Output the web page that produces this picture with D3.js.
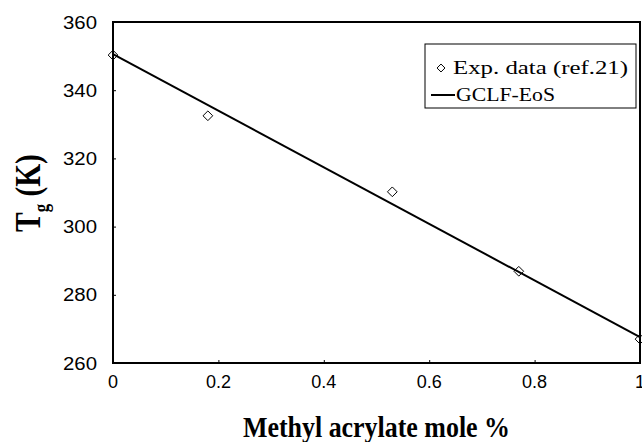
<!DOCTYPE html>
<html><head><meta charset="utf-8">
<script src="https://cdn.jsdelivr.net/npm/d3@7/dist/d3.min.js"></script>
<style>body{margin:0;background:#fff}svg{display:block}</style>
</head><body>
<svg id="c" width="642" height="442"></svg>
<script>
const xTicks = [0, 0.2, 0.4, 0.6, 0.8, 1];
const yTicks = [260, 280, 300, 320, 340, 360];
const expX = [0, 0.18, 0.53, 0.77, 1.0];
const expY = [350.3, 332.5, 310.2, 286.9, 267.0];
const fitX = [0, 1];
const fitY = [350.6, 267.6];
const legendLabels = ["Exp. data (ref.21)", "GCLF-EoS"];

const svg = d3.select("#c");
const L = 113, R = 640, T = 22, B = 363;
const x = d3.scaleLinear().domain([0, 1]).range([L, R]);
const y = d3.scaleLinear().domain([260, 360]).range([B, T]);

// inward ticks
svg.append("g").attr("transform", `translate(0,${B})`)
  .call(d3.axisBottom(x).tickValues(xTicks).tickSize(-3).tickFormat(""))
  .call(g => g.select(".domain").remove());
svg.append("g").attr("transform", `translate(${L},0)`)
  .call(d3.axisLeft(y).tickValues(yTicks).tickSize(-3).tickFormat(""))
  .call(g => g.select(".domain").remove());

// frame
svg.append("rect").attr("x", L).attr("y", T).attr("width", R - L).attr("height", B - T)
  .attr("fill", "none").attr("stroke", "#000").attr("stroke-width", 2);

// tick labels
svg.append("g").selectAll("text").data(xTicks).join("text")
  .attr("x", d => x(d)).attr("y", 388).attr("text-anchor", "middle")
  .attr("font-family", "Liberation Sans, Arial, sans-serif").attr("font-size", 18)
  .text(d => d3.format("~g")(d));
svg.append("g").selectAll("text").data(yTicks).join("text")
  .attr("x", 63).attr("y", d => y(d) + 6.5)
  .attr("font-family", "Liberation Sans, Arial, sans-serif").attr("font-size", 18)
  .attr("textLength", 34).attr("lengthAdjust", "spacingAndGlyphs")
  .text(d => d);

// fit line
const line = d3.line().x(d => x(d[0])).y(d => y(d[1]));
svg.append("path").datum(fitX.map((v, i) => [v, fitY[i]]))
  .attr("d", line).attr("fill", "none").attr("stroke", "#000").attr("stroke-width", 2);

// markers
const diamond = d3.symbol().type(d3.symbolDiamond2).size(60);
svg.append("g").selectAll("path").data(expX.map((v, i) => [v, expY[i]])).join("path")
  .attr("d", diamond).attr("transform", d => `translate(${x(d[0])},${y(d[1])})`)
  .attr("fill", "none").attr("stroke", "#000").attr("stroke-width", 1);

// legend
const lg = svg.append("g");
lg.append("rect").attr("x", 425).attr("y", 44).attr("width", 211).attr("height", 64)
  .attr("fill", "#fff").attr("stroke", "#000").attr("stroke-width", 1);
lg.append("path").attr("d", d3.symbol().type(d3.symbolDiamond2).size(40)())
  .attr("transform", "translate(441,68)").attr("fill", "none").attr("stroke", "#000");
lg.append("text").attr("x", 453).attr("y", 74).attr("font-family", "Liberation Serif, Times New Roman, serif")
  .attr("font-size", 19).attr("textLength", 175).attr("lengthAdjust", "spacingAndGlyphs").text(legendLabels[0]);
lg.append("line").attr("x1", 431).attr("x2", 455).attr("y1", 95).attr("y2", 95)
  .attr("stroke", "#000").attr("stroke-width", 2);
lg.append("text").attr("x", 456).attr("y", 101).attr("font-family", "Liberation Serif, Times New Roman, serif")
  .attr("font-size", 19).attr("textLength", 99).attr("lengthAdjust", "spacingAndGlyphs").text(legendLabels[1]);

// axis titles
svg.append("text").attr("x", 243).attr("y", 437)
  .attr("font-family", "Liberation Serif, Times New Roman, serif").attr("font-weight", "bold")
  .attr("font-size", 30).attr("textLength", 267).attr("lengthAdjust", "spacingAndGlyphs")
  .text("Methyl acrylate mole %");
const yt = svg.append("text").attr("transform", "translate(40,193) rotate(-90) scale(0.84,1)").attr("text-anchor", "middle")
  .attr("font-family", "Liberation Serif, Times New Roman, serif").attr("font-weight", "bold")
  .attr("font-size", 35);
yt.append("tspan").text("T");
yt.append("tspan").attr("font-size", 20).attr("dy", 8).text("g");
yt.append("tspan").attr("dy", -8).text(" (K)");
</script>
</body></html>
